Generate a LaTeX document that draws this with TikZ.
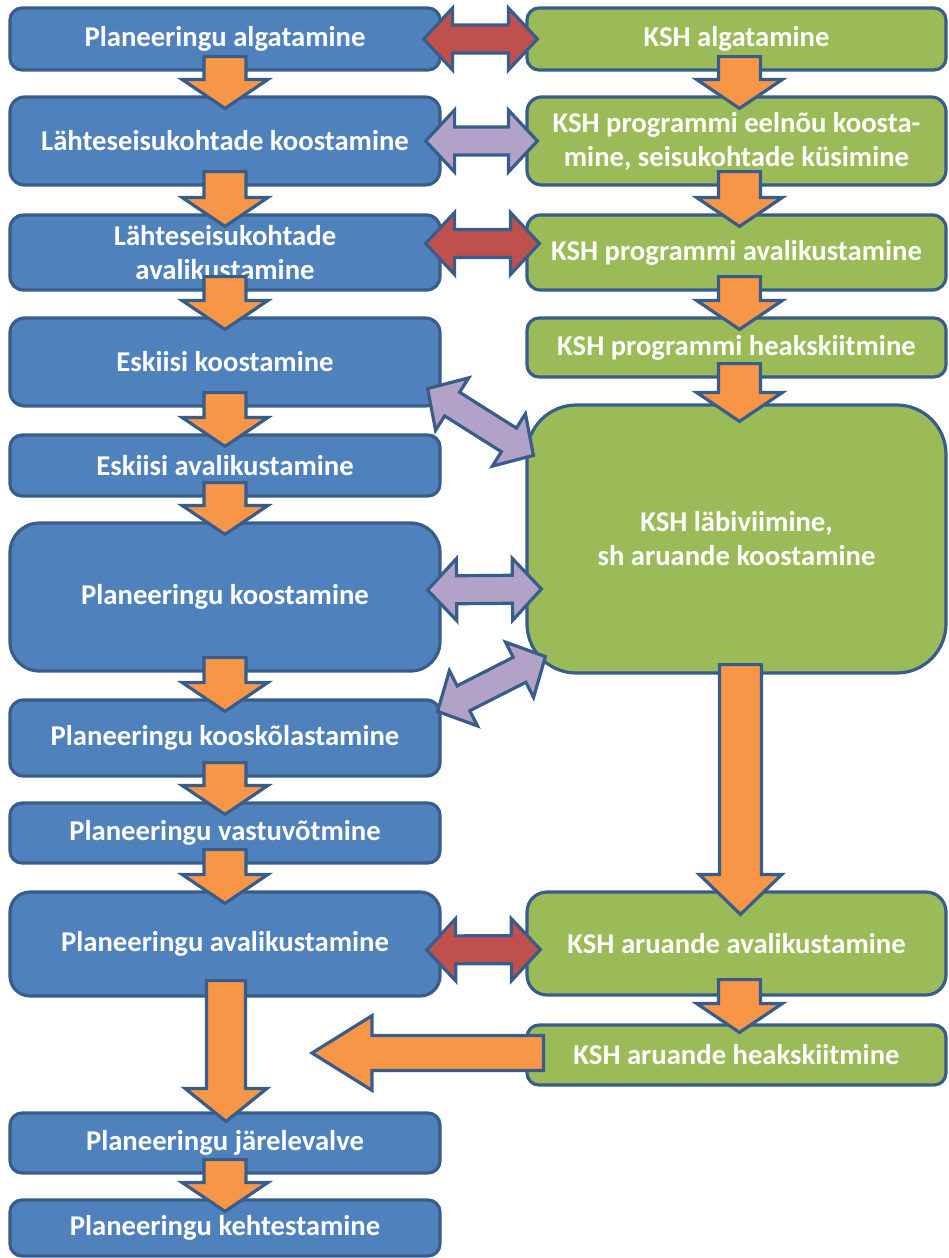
\documentclass[tikz,border=0pt]{standalone}
\usepackage{fontspec}
\setmainfont{Carlito}
\usetikzlibrary{calc}
\definecolor{bfill}{HTML}{4F81BD}
\definecolor{bline}{HTML}{385D8A}
\definecolor{gfill}{HTML}{9BBB59}
\definecolor{ofill}{HTML}{F79646}
\definecolor{rfill}{HTML}{C0504D}
\definecolor{pfill}{HTML}{B3A2C7}
\tikzset{
  boxbase/.style={draw=bline, line width=2.4pt, text=white, align=center, inner sep=0pt,
    font=\fontsize{21.5}{25.5}\selectfont\bfseries},
  bluebox/.style={boxbase, fill=bfill},
  greenbox/.style={boxbase, fill=gfill},
  arr/.style={draw=bline, line width=2.4pt, line join=miter},
}
% box: name, x1, y1, x2, y2, style, radius, text
\newcommand\bx[8]{\node[#6, rounded corners=#7, minimum width={(#4-#2)*0.75pt}, minimum height={(#5-#3)*0.75pt}] (#1) at ({(#2+#4)/2},{(#3+#5)/2}) {#8};}
% single block arrow: start, tip, shaft half, head half, head length, fill
\newcommand\sarrow[6]{%
  \path (#1) coordinate (aS) (#2) coordinate (aT);
  \path ($(aT)!#5!(aS)$) coordinate (aH);
  \draw[arr, fill=#6] ($(aS)!#3!90:(aT)$) -- ($(aH)!#3!90:(aT)$) -- ($(aH)!#4!90:(aT)$) -- (aT)
     -- ($(aH)!#4!-90:(aT)$) -- ($(aH)!#3!-90:(aT)$) -- ($(aS)!#3!-90:(aT)$) -- cycle;}
% double block arrow: tip A, tip B, shaft half, head half, head length, fill
\newcommand\darrow[6]{%
  \path (#1) coordinate (dA) (#2) coordinate (dB);
  \path ($(dA)!#5!(dB)$) coordinate (dHA) ($(dB)!#5!(dA)$) coordinate (dHB);
  \draw[arr, fill=#6] (dA) -- ($(dHA)!#4!90:(dB)$) -- ($(dHA)!#3!90:(dB)$) -- ($(dHB)!#3!-90:(dA)$)
     -- ($(dHB)!#4!-90:(dA)$) -- (dB) -- ($(dHB)!#4!90:(dA)$) -- ($(dHB)!#3!90:(dA)$)
     -- ($(dHA)!#3!-90:(dB)$) -- ($(dHA)!#4!-90:(dB)$) -- cycle;}
\newcommand\varrow[3]{\sarrow{#1}{#2}{15.75pt}{32.25pt}{21.75pt}{#3}}
\newcommand\harrow[3]{\darrow{#1}{#2}{10.5pt}{23.25pt}{21.75pt}{#3}}
\begin{document}
\begin{tikzpicture}[x=0.75pt, y=-0.75pt]
\useasboundingbox (0,0) rectangle (949,1258);
% left column
\bx{L1}{10}{8}{440}{70}{bluebox}{9pt}{Planeeringu algatamine}
\bx{L2}{10}{97}{440}{185}{bluebox}{11pt}{Lähteseisukohtade koostamine}
\bx{L3}{10}{215}{440}{290}{bluebox}{10pt}{Lähteseisukohtade\\avalikustamine}
\bx{L4}{10}{318}{440}{406}{bluebox}{11pt}{Eskiisi koostamine}
\bx{L5}{10}{435}{440}{496}{bluebox}{9pt}{Eskiisi avalikustamine}
\bx{L6}{10}{523}{440}{671}{bluebox}{22pt}{Planeeringu koostamine}
\bx{L7}{10}{700}{440}{776}{bluebox}{10pt}{Planeeringu kooskõlastamine}
\bx{L8}{10}{803}{440}{863}{bluebox}{9pt}{Planeeringu vastuvõtmine}
\bx{L9}{10}{892}{440}{996}{bluebox}{15pt}{Planeeringu avalikustamine}
\bx{L10}{10}{1113}{440}{1173}{bluebox}{9pt}{Planeeringu järelevalve}
\bx{L11}{10}{1200}{440}{1256}{bluebox}{9pt}{Planeeringu kehtestamine}
% right column
\bx{R1}{527}{8}{946}{70}{greenbox}{9pt}{KSH algatamine}
\bx{R2}{527}{97}{946}{185}{greenbox}{11pt}{KSH programmi eelnõu koosta-\\mine, seisukohtade küsimine}
\bx{R3}{527}{215}{946}{290}{greenbox}{10pt}{KSH programmi avalikustamine}
\bx{R4}{527}{318}{946}{377}{greenbox}{9pt}{KSH programmi heakskiitmine}
\bx{R5}{527}{405}{946}{673}{greenbox}{37pt}{KSH läbiviimine,\\sh aruande koostamine}
\bx{R6}{527}{892}{946}{995}{greenbox}{15pt}{KSH aruande avalikustamine}
\bx{R7}{527}{1025}{946}{1085}{greenbox}{9pt}{KSH aruande heakskiitmine}
% left vertical arrows
\varrow{$(L1.south)+(0,-15)$}{$(L2.north)+(0,13)$}{ofill}
\varrow{$(L2.south)+(0,-15)$}{$(L3.north)+(0,13)$}{ofill}
\varrow{$(L3.south)+(0,-15)$}{$(L4.north)+(0,13)$}{ofill}
\varrow{$(L4.south)+(0,-15)$}{$(L5.north)+(0,13)$}{ofill}
\varrow{$(L5.south)+(0,-15)$}{$(L6.north)+(0,13)$}{ofill}
\varrow{$(L6.south)+(0,-15)$}{$(L7.north)+(0,13)$}{ofill}
\varrow{$(L7.south)+(0,-15)$}{$(L8.north)+(0,13)$}{ofill}
\varrow{$(L8.south)+(0,-15)$}{$(L9.north)+(0,13)$}{ofill}
\sarrow{$(L9.south)+(1,-17)$}{$(L10.north)+(1,10)$}{14.6pt}{30.75pt}{24.75pt}{ofill}
\varrow{$(L10.south)+(0,-15)$}{$(L11.north)+(0,13)$}{ofill}
% right vertical arrows
\varrow{$(R1.south)+(3,-15)$}{$(R2.north)+(3,13)$}{ofill}
\varrow{$(R2.south)+(3,-15)$}{$(R3.north)+(3,13)$}{ofill}
\varrow{$(R3.south)+(3,-15)$}{$(R4.north)+(3,13)$}{ofill}
\varrow{$(R4.south)+(3,-15)$}{$(R5.north)+(3,18)$}{ofill}
\sarrow{$(R5.south)+(4,-10)$}{$(R6.north)+(4,24)$}{15.75pt}{31pt}{30pt}{ofill}
\varrow{$(R6.south)+(3,-17)$}{$(R7.north)+(3,9)$}{ofill}
% left-pointing big arrow
\coordinate (T) at (312,1053);
\sarrow{$(R7.west)+(18,-2)$}{T}{13.1pt}{28pt}{45pt}{ofill}
% double arrows
\harrow{$(L1.east)+(-18,0)$}{$(R1.west)+(12,0)$}{rfill}
\harrow{$(L2.east)+(-16,0)$}{$(R2.west)+(12,0)$}{pfill}
\harrow{$(L3.east)+(-16,-9)$}{$(R3.west)+(14,-9)$}{rfill}
\harrow{$(L4.south east)+(-14,-19)$}{$(R5.north west)+(8,52)$}{pfill}
\harrow{$(L6.east)+(-14,-7)$}{$(R5.west)+(16,50)$}{pfill}
\harrow{$(L7.north east)+(-4,13)$}{$(R5.south west)+(20,-18)$}{pfill}
\harrow{$(L9.east)+(-15,6)$}{$(R6.west)+(15,6)$}{rfill}
\end{tikzpicture}
\end{document}
